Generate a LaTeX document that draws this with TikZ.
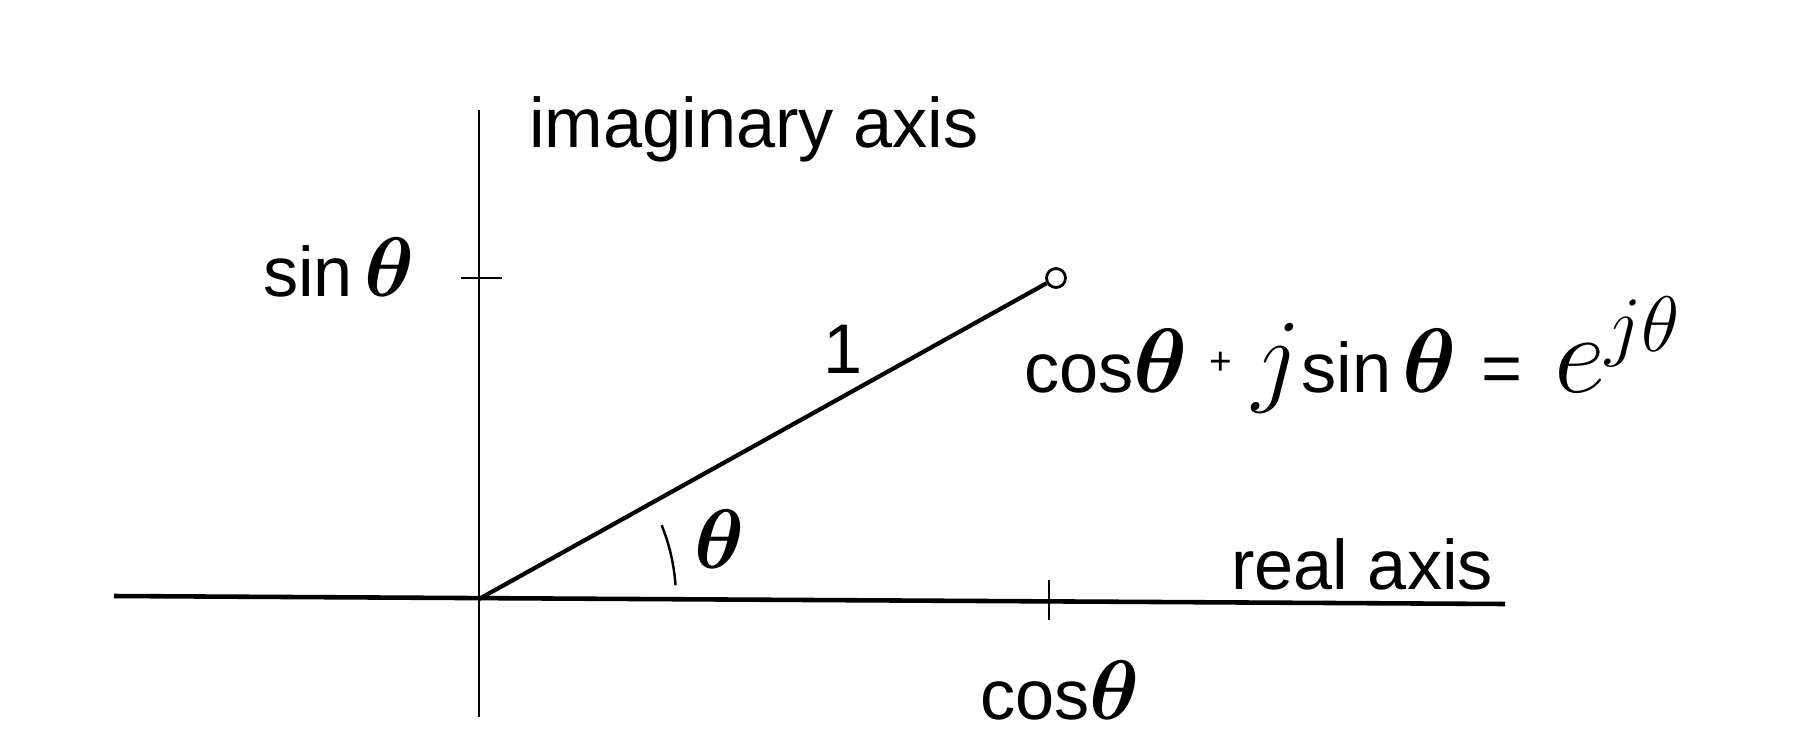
\RequirePackage{fix-cm}
\documentclass[tikz,border=0pt]{standalone}
\usepackage{fontspec}
\usepackage{bm}
\setmainfont{Liberation Sans}
\newcommand{\tht}[1][48]{{\fontsize{#1}{#1}\selectfont$\bm{\theta}$}}

\begin{document}
\begin{tikzpicture}[x=0.02cm, y=-0.02cm,
    lbl/.style={inner sep=0pt, font=\fontsize{40}{48}\selectfont},
    thinaxis/.style={line width=1.4pt},
    thickaxis/.style={line width=2.6pt},
    vec/.style={line width=2.4pt},
    tip/.style={circle, draw, line width=1.6pt, inner sep=0pt, minimum size=0.38cm}]
    \useasboundingbox (0,0) rectangle (1818,750);
    %% origin and axis ends
    \coordinate (O) at (479,599);
    \coordinate (im1) at (479,110);
    \coordinate (im2) at (479,717);
    \coordinate (re1) at (114,596);
    \coordinate (re2) at (1505,604);
    \draw[thinaxis] (im1) -- (im2);
    \draw[thickaxis] (re1) -- (re2);
    %% ticks
    \coordinate (s1) at (461,278);
    \coordinate (s2) at (502,278);
    \coordinate (c1) at (1049,580);
    \coordinate (c2) at (1049,620);
    \draw[thinaxis] (s1) -- (s2);
    \draw[thinaxis] (c1) -- (c2);
    %% unit vector
    \node[tip] (p) at (1056,278) {};
    \draw[vec] (O) -- (p);
    \draw[thinaxis] (O) ++(-4:197) arc[start angle=-4, end angle=-22, radius=197];
    %% labels
    \node[lbl, anchor=base west] (imag) at (529,147) {imaginary axis};
    \node[lbl, anchor=base west] (real) at (1231,589) {real axis};
    \node[lbl, anchor=base east] (sinl) at (415,296) {sin\,\tht};
    \node[lbl, anchor=base west] (cosl) at (980,719) {cos\tht};
    \node[lbl, anchor=base] (one) at (843,373) {1};
    \node[lbl, anchor=base west] (ang) at (694,568) {\tht};
    \node[lbl, anchor=base west] (euler) at (1024,392)
    {cos\tht[52]\hspace{0.3em}\raisebox{0.25em}{\fontsize{22}{22}\selectfont+}\hspace{0.3em}{\fontsize{60}{60}\selectfont$j$}sin\,\tht[52]\hspace{0.35em}=\hspace{0.45em}{\fontsize{64}{64}\selectfont$e^{j\theta}$}};
\end{tikzpicture}
\end{document}
